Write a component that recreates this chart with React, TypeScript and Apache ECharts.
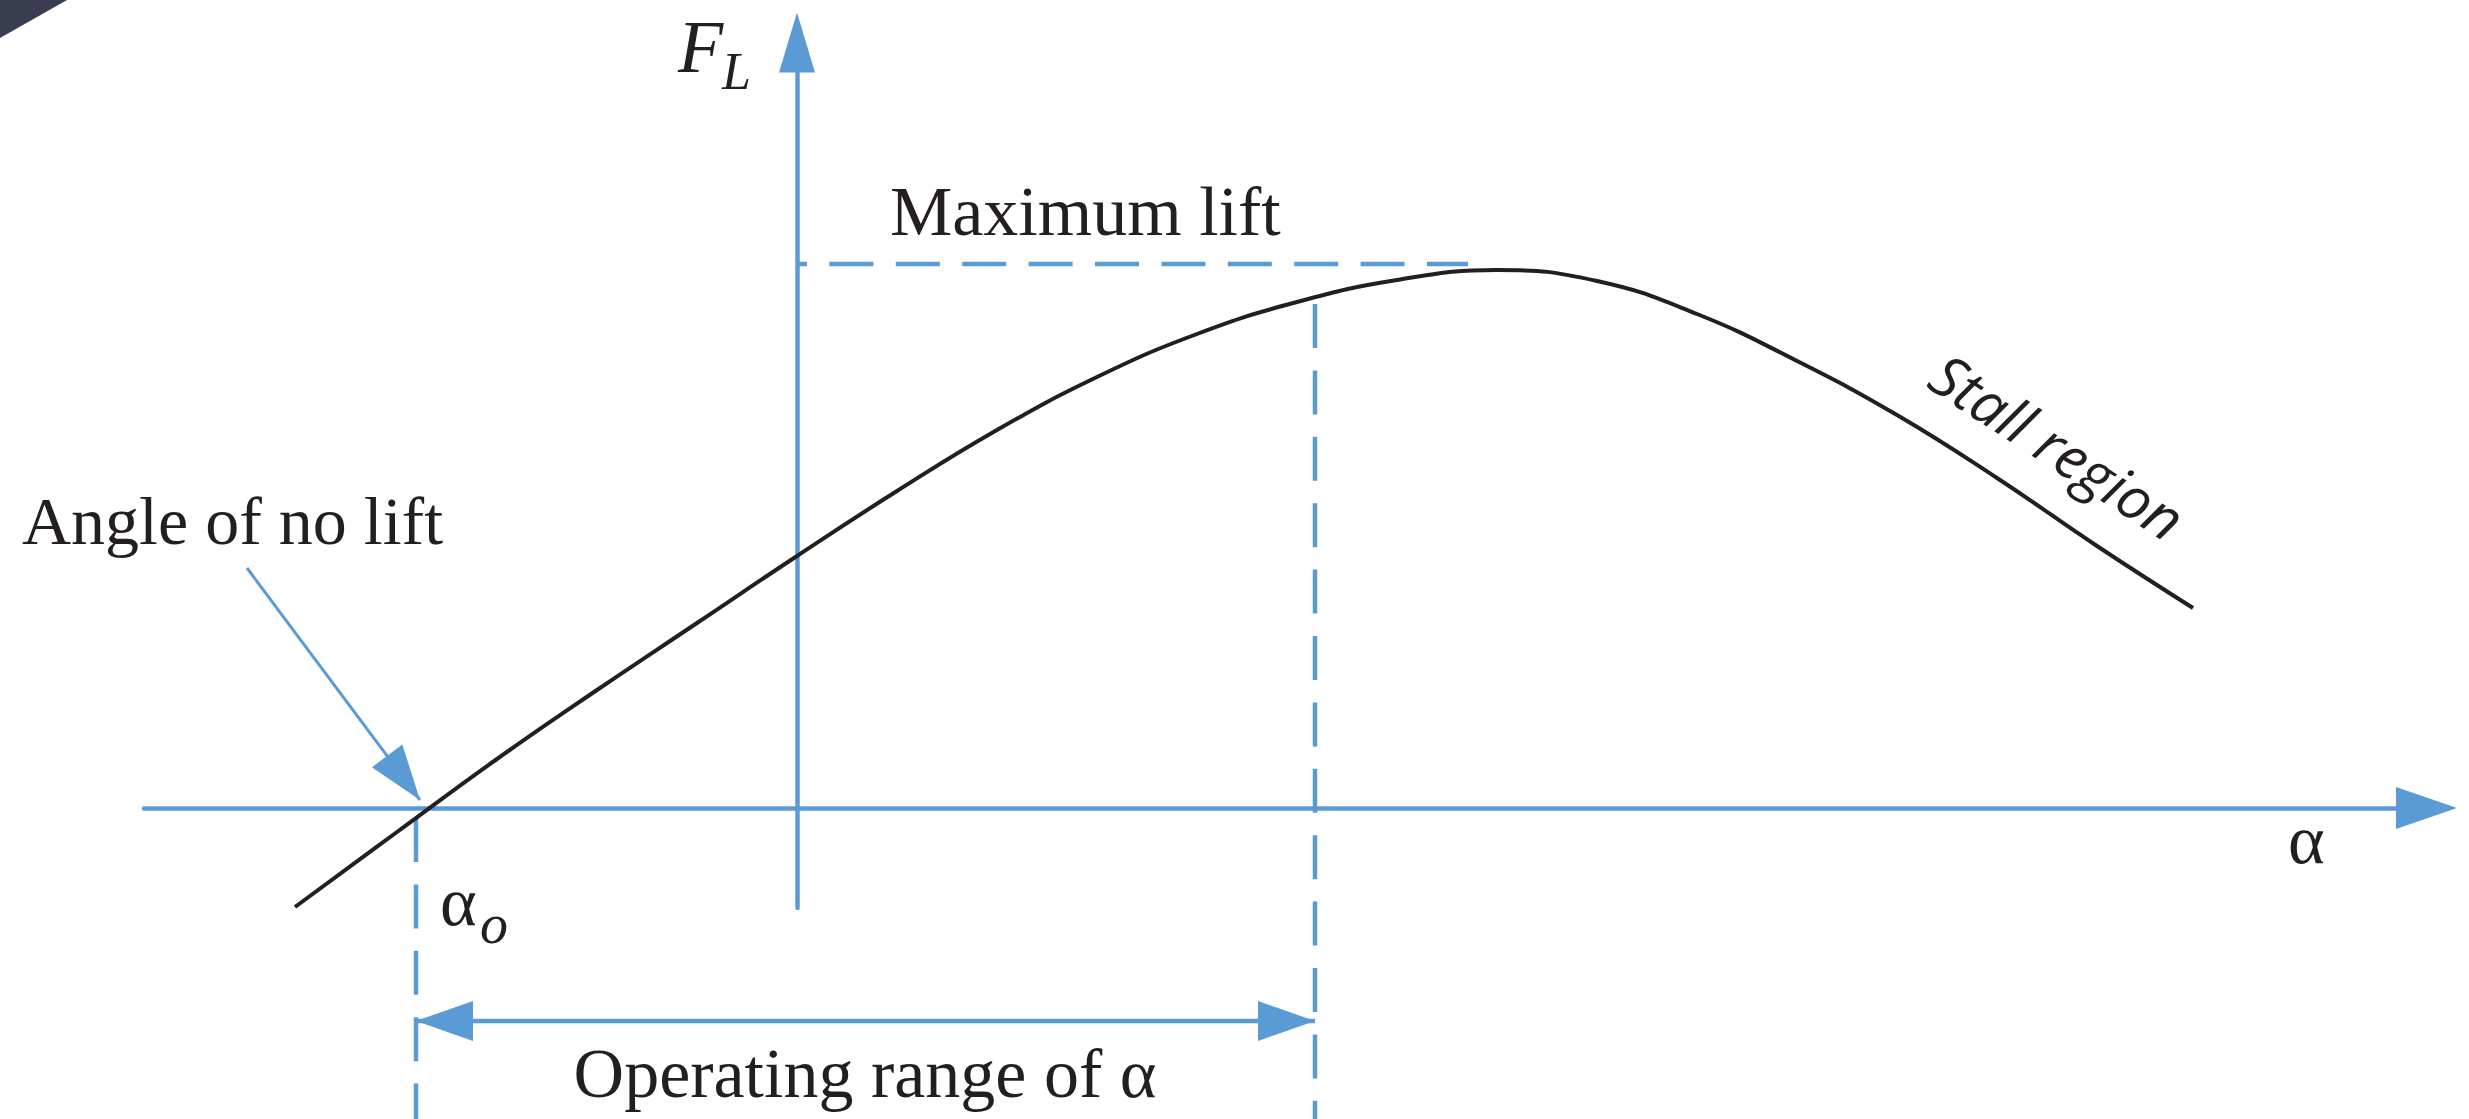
import React, { useEffect, useRef } from "react";
import * as echarts from "echarts";

const W = 2469;
const H = 1119;
const BLUE = "#5b9bd5";
const INK = "#231f20";

// Lift curve: angle of attack (deg, schematic) vs lift force (schematic units)
const alpha = [-10.04, -8, -6, -4, -2, 0, 2, 4, 6, 8, 10, 12, 14, 16, 18, 20, 22, 24, 26, 27.92];
const lift = [-0.99, -0.24, 0.49, 1.18, 1.85, 2.52, 3.17, 3.78, 4.31, 4.74, 5.06, 5.28, 5.38, 5.27, 4.94, 4.47, 3.93, 3.3, 2.62, 2.0];

// Reference markers (data units)
const alphaNoLift = -7.62;
const alphaOperatingMax = 10.36;
const maxLiftLevel = 5.44;
const maxLiftLineEnd = 13.42;
const operatingDashTop = 5.04;
const noLiftDashTop = -0.1;
const dashBottom = -3.11;
const rangeArrowLevel = -2.13;
const noLiftArrowFrom = [-11, 2.4];
const noLiftArrowTo = [-7.54, 0.08];

// Axis extents (data units)
const xMin = -13.06;
const xMax = 32.59;
const yMin = -1.0;
const yMax = 7.655;

// Texts
const labelFL = ["F", "L"];
const labelMaxLift = "Maximum lift";
const labelNoLift = "Angle of no lift";
const labelAlphaO = ["α", "o"];
const labelAlpha = "α";
const labelRange = "Operating range of α";
const labelStall = "Stall region";

const SERIF = '"Liberation Serif", "Times New Roman", serif';

export default function App() {
  const ref = useRef<HTMLDivElement>(null);

  useEffect(() => {
    document.body.style.margin = "0";
    document.body.style.overflow = "hidden";
    const el = ref.current!;
    const chart = echarts.init(el, null, { renderer: "svg", width: W, height: H });

    const dashed = { color: BLUE, width: 4.5, type: [44, 22.4] as number[] };

    const option: any = {
      animation: false,
      backgroundColor: "#ffffff",
      grid: { left: 144, right: 42.5, top: 42.5, bottom: 211, containLabel: false, outerBoundsMode: "none" },
      xAxis: {
        type: "value",
        min: xMin,
        max: xMax,
        axisLine: {
          show: true,
          onZero: true,
          symbol: ["none", "triangle"],
          symbolSize: [42, 61],
          lineStyle: { color: BLUE, width: 4.5 },
        },
        axisTick: { show: false },
        axisLabel: { show: false },
        splitLine: { show: false },
      },
      yAxis: {
        type: "value",
        min: yMin,
        max: yMax,
        axisLine: {
          show: true,
          onZero: true,
          symbol: ["none", "triangle"],
          symbolSize: [36, 60],
          lineStyle: { color: BLUE, width: 4.5 },
        },
        axisTick: { show: false },
        axisLabel: { show: false },
        splitLine: { show: false },
      },
      series: [
        {
          type: "line",
          data: [[0, maxLiftLevel], [maxLiftLineEnd, maxLiftLevel]],
          symbol: "none",
          clip: false,
          silent: true,
          lineStyle: { ...dashed, dashOffset: 34 },
          z: 1,
        },
        {
          type: "line",
          data: [[alphaOperatingMax, operatingDashTop], [alphaOperatingMax, dashBottom]],
          symbol: "none",
          clip: false,
          silent: true,
          lineStyle: { ...dashed },
          z: 1,
        },
        {
          type: "line",
          data: [[alphaNoLift, noLiftDashTop], [alphaNoLift, dashBottom]],
          symbol: "none",
          clip: false,
          silent: true,
          lineStyle: { ...dashed },
          z: 1,
        },
        {
          // operating range double arrow
          type: "line",
          data: [
            { value: [alphaNoLift, rangeArrowLevel], symbol: "triangle", symbolSize: [40, 57], symbolRotate: 90, symbolOffset: [28.5, 0] },
            { value: [alphaOperatingMax, rangeArrowLevel], symbol: "triangle", symbolSize: [40, 57], symbolRotate: -90, symbolOffset: [-28.5, 0] },
          ],
          showSymbol: true,
          clip: false,
          silent: true,
          lineStyle: { color: BLUE, width: 4.5 },
          itemStyle: { color: BLUE, borderWidth: 0 },
          emphasis: { disabled: true },
          z: 2,
        },
        {
          type: "line",
          data: alpha.map((a, i) => [a, lift[i]]),
          smooth: 0.45,
          symbol: "none",
          showSymbol: false,
          clip: false,
          silent: true,
          lineStyle: { color: INK, width: 4 },
          z: 5,
        },
        {
          type: "line",
          data: [],
          symbol: "none",
          clip: false,
          silent: true,
          markLine: {
            silent: true,
            animation: false,
            label: { show: false },
            emphasis: { disabled: true },
            data: [
              [
                {
                  coord: noLiftArrowFrom,
                  symbol: "none",
                  lineStyle: { color: BLUE, width: 3, type: "solid" },
                  itemStyle: { color: BLUE },
                },
                {
                  coord: noLiftArrowTo,
                  symbol: "triangle",
                  symbolSize: [38, 55],
                  symbolOffset: [0, 27.5],
                },
              ],
            ],
          },
        },
      ],
      graphic: [
        {
          type: "polygon",
          silent: true,
          shape: { points: [[0, 0], [67, 0], [0, 38]] },
          style: { fill: "#3a3c50" },
        },
        {
          type: "text",
          x: 678,
          y: 47,
          silent: true,
          style: { text: labelFL[0], fontFamily: SERIF, fontStyle: "italic", fontSize: 74, fill: INK, align: "left", verticalAlign: "middle" },
        },
        {
          type: "text",
          x: 722,
          y: 71,
          silent: true,
          style: { text: labelFL[1], fontFamily: SERIF, fontStyle: "italic", fontSize: 52, fill: INK, align: "left", verticalAlign: "middle" },
        },
        {
          type: "text",
          x: 890,
          y: 211,
          silent: true,
          style: { text: labelMaxLift, fontFamily: SERIF, fontSize: 70, fill: INK, align: "left", verticalAlign: "middle" },
        },
        {
          type: "text",
          x: 22,
          y: 521,
          silent: true,
          style: { text: labelNoLift, fontFamily: SERIF, fontSize: 68, fill: INK, align: "left", verticalAlign: "middle" },
        },
        {
          type: "text",
          x: 440,
          y: 901,
          silent: true,
          style: { text: labelAlphaO[0], fontFamily: SERIF, fontSize: 70, fill: INK, align: "left", verticalAlign: "middle" },
        },
        {
          type: "text",
          x: 480,
          y: 924,
          silent: true,
          style: { text: labelAlphaO[1], fontFamily: SERIF, fontStyle: "italic", fontSize: 56, fill: INK, align: "left", verticalAlign: "middle" },
        },
        {
          type: "text",
          x: 2288,
          y: 839,
          silent: true,
          style: { text: labelAlpha, fontFamily: SERIF, fontSize: 70, fill: INK, align: "left", verticalAlign: "middle" },
        },
        {
          type: "text",
          x: 865,
          y: 1073,
          silent: true,
          style: { text: labelRange, fontFamily: SERIF, fontSize: 70, fill: INK, align: "center", verticalAlign: "middle" },
        },
        {
          type: "text",
          x: 2058,
          y: 446,
          rotation: (-33 * Math.PI) / 180,
          silent: true,
          style: { text: labelStall, fontFamily: '"Open Sans", "Noto Sans", sans-serif', fontStyle: "italic", fontSize: 58, fill: INK, align: "center", verticalAlign: "middle" },
        },
      ],
    };

    chart.setOption(option);
    return () => chart.dispose();
  }, []);

  return <div ref={ref} style={{ position: "fixed", left: 0, top: 0, width: W, height: H }} />;
}
